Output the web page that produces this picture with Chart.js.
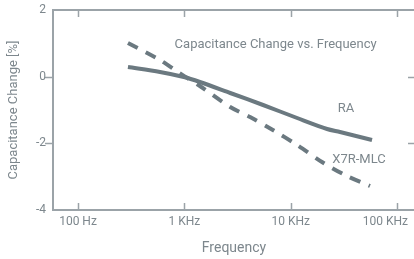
<!DOCTYPE html>
<html>
<head>
<meta charset="utf-8">
<script src="https://cdn.jsdelivr.net/npm/chart.js@4.4.1/dist/chart.umd.min.js"></script>
<style>
  html, body { margin: 0; padding: 0; overflow: hidden; background: #fff; }
  #wrap { width: 416px; height: 259px; }
</style>
</head>
<body>
<div id="wrap"><canvas id="chart"></canvas></div>
<script>
// values
const raFreq = [295, 590, 990, 1400, 2700, 5500, 11500, 22000, 29100, 58200];
const raChange = [0.29, 0.14, -0.01, -0.16, -0.49, -0.85, -1.24, -1.57, -1.66, -1.90];
const x7rFreq = [295, 590, 900, 1400, 2700, 4150, 6800, 11500, 19700, 32400, 55700];
const x7rChange = [1.01, 0.50, 0.11, -0.28, -0.91, -1.21, -1.60, -2.05, -2.56, -2.95, -3.28];
const freqTicks = [100, 1000, 10000, 100000];
const freqTickLabels = ['100 Hz', '1 KHz', '10 KHz', '100 KHz'];
const changeTicks = [2, 0, -2, -4];

const LINE = '#6b7980';
const AXIS = '#9ba3a8';
const TEXT = '#7d878d';
const FONT = 'Roboto, "Noto Sans", sans-serif';

// where the series names sit, relative to each line's last point
const labelOffsets = [[-26, -31], [-11, -26]];

function points(xs, ys) {
  return xs.map((f, i) => ({ x: f, y: ys[i] }));
}

// frame, ticks and texts, placed from the chart's scales
const decorations = {
  id: 'decorations',
  afterDraw(chart) {
    const { ctx, chartArea: a, scales: { x, y } } = chart;
    ctx.save();
    ctx.strokeStyle = AXIS;
    ctx.lineWidth = 2;
    ctx.beginPath();
    ctx.moveTo(a.right, a.top);
    ctx.lineTo(a.left, a.top);
    ctx.lineTo(a.left, a.bottom);
    ctx.lineTo(a.right, a.bottom);
    ctx.stroke();

    ctx.lineWidth = 1.5;
    ctx.beginPath();
    freqTicks.forEach(f => {
      const px = Math.round(x.getPixelForValue(f)) + 0.5;
      ctx.moveTo(px, a.top); ctx.lineTo(px, a.top + 7);
      ctx.moveTo(px, a.bottom); ctx.lineTo(px, a.bottom - 7);
    });
    changeTicks.forEach(v => {
      if (v === y.max || v === y.min) return;
      const py = Math.round(y.getPixelForValue(v)) + 0.5;
      ctx.moveTo(a.left - 8, py); ctx.lineTo(a.left, py);
      ctx.moveTo(a.right - 7, py); ctx.lineTo(a.right, py);
    });
    ctx.stroke();

    ctx.fillStyle = TEXT;
    ctx.font = '12px ' + FONT;
    ctx.textBaseline = 'middle';
    ctx.textAlign = 'left';
    freqTicks.forEach((f, i) => {
      const w = ctx.measureText(freqTickLabels[i]).width;
      let lx = x.getPixelForValue(f) - w / 2;
      lx = Math.max(lx, a.left);
      lx = Math.min(lx, chart.width - 8 - w);
      ctx.fillText(freqTickLabels[i], lx, a.bottom + 12);
    });
    ctx.textAlign = 'right';
    changeTicks.forEach(v => {
      ctx.fillText(String(v), a.left - 7, y.getPixelForValue(v));
    });

    ctx.textAlign = 'center';
    ctx.font = '14px ' + FONT;
    ctx.fillText('Frequency', (a.left + a.right) / 2, a.bottom + 38);
    ctx.save();
    ctx.font = '13px ' + FONT;
    ctx.translate(14, (a.top + a.bottom) / 2);
    ctx.rotate(-Math.PI / 2);
    ctx.fillText('Capacitance Change [%]', 0, 0);
    ctx.restore();

    ctx.font = '13px ' + FONT;
    ctx.fillText('Capacitance Change vs. Frequency', a.left + (a.right - a.left) * 0.615, a.top + 35);

    chart.data.datasets.forEach((ds, i) => {
      const pts = chart.getDatasetMeta(i).data;
      const last = pts[pts.length - 1];
      ctx.fillText(ds.label, last.x + labelOffsets[i][0], last.y + labelOffsets[i][1]);
    });
    ctx.restore();
  }
};

new Chart(document.getElementById('chart'), {
  type: 'line',
  data: {
    datasets: [
      {
        label: 'RA',
        data: points(raFreq, raChange),
        borderColor: LINE,
        borderWidth: 4,
        tension: 0.3,
        pointRadius: 0
      },
      {
        label: 'X7R-MLC',
        data: points(x7rFreq, x7rChange),
        borderColor: LINE,
        borderWidth: 4,
        borderDash: [11, 9],
        tension: 0.3,
        pointRadius: 0
      }
    ]
  },
  options: {
    responsive: true,
    maintainAspectRatio: false,
    animation: false,
    events: [],
    layout: { padding: { left: 53, top: 10, right: 1, bottom: 49 } },
    plugins: { legend: { display: false }, tooltip: { enabled: false } },
    scales: {
      x: { type: 'logarithmic', min: 58.2, max: 147600, display: false },
      y: { type: 'linear', min: -4, max: 2, display: false }
    }
  },
  plugins: [decorations]
});
</script>
</body>
</html>
